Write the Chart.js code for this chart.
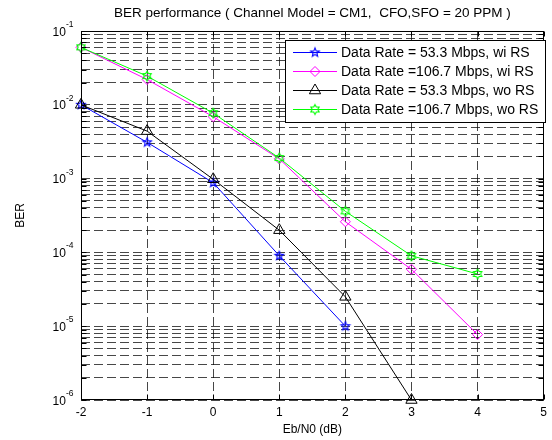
<!DOCTYPE html>
<html>
<head>
<meta charset="utf-8">
<script src="https://cdn.jsdelivr.net/npm/chart.js@4.4.0/dist/chart.umd.min.js"></script>
<style>
  html, body { margin: 0; padding: 0; background: #fff; }
  #wrap { width: 552px; height: 440px; }
</style>
</head>
<body>
<div id="wrap"><canvas id="berChart" width="552" height="440"></canvas></div>
<script>
// Eb/N0 (dB) values where BER was simulated
const ebn0 = [-2, -1, 0, 1, 2, 3, 4];
// BER per curve (null = point not plotted)
const berWiRS533 = [1.0e-2, 3.1e-3, 8.8e-4, 9.0e-5, 1.0e-5, null, null];
const berWiRS1067 = [6.0e-2, 2.2e-2, 6.9e-3, 1.85e-3, 2.6e-4, 5.9e-5, 7.7e-6];
const berWoRS533 = [1.0e-2, 4.4e-3, 9.8e-4, 2.0e-4, 2.5e-5, 1.0e-6, null];
const berWoRS1067 = [6.0e-2, 2.45e-2, 7.7e-3, 1.9e-3, 3.6e-4, 9.0e-5, 5.1e-5];

const seriesLabels = [
    'Data Rate = 53.3 Mbps, wi RS',
    'Data Rate =106.7 Mbps, wi RS',
    'Data Rate = 53.3 Mbps, wo RS',
    'Data Rate =106.7 Mbps, wo RS'
];
const xTicks = [-2, -1, 0, 1, 2, 3, 4, 5];
const yDecades = [-6, -5, -4, -3, -2, -1];

const chartTitle = 'BER performance ( Channel Model = CM1,  CFO,SFO = 20 PPM )';
const xTitle = 'Eb/N0 (dB)';
const yTitle = 'BER';

const FONT = 'Arial, "Liberation Sans", Helvetica, sans-serif';
const gridColor = 'rgba(0,0,0,0.72)';

// estrella dibujada en un canvas pequeño (pentagrama / hexagrama de MATLAB)
function makeStar(points, rOuter, rInner, color) {
    const size = Math.ceil(rOuter * 2 + 4);
    const c = document.createElement('canvas');
    c.width = size;
    c.height = size;
    const g = c.getContext('2d');
    g.strokeStyle = color;
    g.lineWidth = 1.1;
    g.beginPath();
    for (let i = 0; i < points * 2; i++) {
        const r = i % 2 === 0 ? rOuter : rInner;
        const a = -Math.PI / 2 + i * Math.PI / points;
        const px = size / 2 + r * Math.cos(a);
        const py = size / 2 + r * Math.sin(a);
        if (i === 0) g.moveTo(px, py); else g.lineTo(px, py);
    }
    g.closePath();
    g.stroke();
    return c;
}

function toPoints(values) {
    const out = [];
    values.forEach((v, i) => {
        if (v !== null) out.push({ x: ebn0[i], y: v });
    });
    return out;
}

const datasets = [
    { label: seriesLabels[0], data: toPoints(berWiRS533), borderColor: '#0000ff',
      pointStyle: makeStar(5, 4.6, 2, '#0000ff'), pointRadius: 5, order: 3 },
    { label: seriesLabels[1], data: toPoints(berWiRS1067), borderColor: '#ff00ff',
      pointStyle: 'rectRot', pointRadius: 5, order: 2 },
    { label: seriesLabels[2], data: toPoints(berWoRS533), borderColor: '#000000',
      pointStyle: 'triangle', pointRadius: 6.5, order: 1 },
    { label: seriesLabels[3], data: toPoints(berWoRS1067), borderColor: '#00ff00',
      pointStyle: makeStar(6, 4.8, 2.8, '#00ff00'), pointRadius: 5, order: 0 }
].map(ds => Object.assign(ds, {
    borderWidth: 1,
    pointBorderWidth: 1,
    pointBorderColor: ds.borderColor,
    pointBackgroundColor: 'rgba(0,0,0,0)',
    tension: 0,
    fill: false,
    clip: false
}));

function drawMarker(ctx, ds, x, y) {
    if (ds.pointStyle instanceof HTMLCanvasElement) {
        ctx.drawImage(ds.pointStyle, x - ds.pointStyle.width / 2, y - ds.pointStyle.height / 2);
    } else {
        Chart.helpers.drawPoint(ctx, {
            pointStyle: ds.pointStyle, radius: ds.pointRadius, rotation: 0, borderWidth: 1
        }, x, y);
    }
}

// ejes estilo MATLAB: caja, marcas hacia adentro, etiquetas 10^n, títulos y leyenda
const matlabAxes = {
    id: 'matlabAxes',
    afterDraw(chart) {
        const { ctx, chartArea: a, scales: { x, y } } = chart;
        const L = Math.round(a.left) + 0.5, R = Math.round(a.right) - 0.5;
        const T = Math.round(a.top) + 0.5, B = Math.round(a.bottom) - 0.5;
        ctx.save();
        ctx.setLineDash([]);
        ctx.strokeStyle = '#000';
        ctx.lineWidth = 1;

        // marcas
        ctx.beginPath();
        y.ticks.forEach(t => {
            const py = Math.round(y.getPixelForValue(t.value)) + 0.5;
            ctx.moveTo(L, py); ctx.lineTo(L + 5, py);
            ctx.moveTo(R, py); ctx.lineTo(R - 5, py);
        });
        xTicks.forEach(v => {
            const px = Math.round(x.getPixelForValue(v)) + 0.5;
            ctx.moveTo(px, B); ctx.lineTo(px, B - 5);
            ctx.moveTo(px, T); ctx.lineTo(px, T + 5);
        });
        ctx.stroke();
        ctx.strokeRect(L, T, R - L, B - T);

        // etiquetas del eje y
        ctx.fillStyle = '#000';
        ctx.textBaseline = 'alphabetic';
        yDecades.forEach(d => {
            const py = y.getPixelForValue(Math.pow(10, d));
            ctx.font = '12px ' + FONT;
            const exp = String(d);
            const baseW = ctx.measureText('10').width;
            ctx.font = '8.5px ' + FONT;
            const expW = ctx.measureText(exp).width;
            const xr = L - 8;
            ctx.font = '12px ' + FONT;
            ctx.textAlign = 'left';
            ctx.fillText('10', xr - expW - baseW, py + 4.5);
            ctx.font = '8.5px ' + FONT;
            ctx.fillText(exp, xr - expW, py - 4);
        });

        // títulos
        ctx.font = '13.5px ' + FONT;
        ctx.textAlign = 'center';
        ctx.textBaseline = 'middle';
        ctx.fillText(chartTitle, (a.left + a.right) / 2, 13);
        ctx.font = '12px ' + FONT;
        ctx.fillText(xTitle, (a.left + a.right) / 2, 430);
        ctx.save();
        ctx.translate(21, (a.top + a.bottom) / 2);
        ctx.rotate(-Math.PI / 2);
        ctx.fillText(yTitle, 0, 0);
        ctx.restore();

        // leyenda
        const lx = 285, ly = 40, lw = 260, lh = 82;
        ctx.fillStyle = '#fff';
        ctx.fillRect(lx, ly, lw, lh);
        ctx.strokeStyle = '#000';
        ctx.strokeRect(lx + 0.5, ly + 0.5, lw, lh);
        ctx.font = '14px ' + FONT;
        ctx.textAlign = 'left';
        chart.data.datasets.forEach((ds, i) => {
            const ry = Math.round(ly + 12 + i * 19) + 0.5;
            ctx.strokeStyle = ds.borderColor;
            ctx.lineWidth = 1;
            ctx.beginPath();
            ctx.moveTo(lx + 8, ry);
            ctx.lineTo(lx + 52, ry);
            ctx.stroke();
            ctx.fillStyle = 'rgba(0,0,0,0)';
            drawMarker(ctx, ds, lx + 30, ry);
            ctx.fillStyle = '#000';
            ctx.fillText(ds.label, lx + 56, ry + 1);
        });
        ctx.restore();
    }
};

const ctx = document.getElementById('berChart').getContext('2d');
const myChart = new Chart(ctx, {
    type: 'line',
    data: { datasets: datasets },
    options: {
        responsive: false,
        animation: false,
        events: [],
        layout: { padding: { top: 31, right: 3, left: 0, bottom: 0 } },
        plugins: {
            legend: { display: false },
            title: { display: false },
            tooltip: { enabled: false }
        },
        scales: {
            x: {
                type: 'linear',
                min: -2,
                max: 5,
                afterBuildTicks: s => { s.ticks = xTicks.map(v => ({ value: v })); },
                afterFit: s => { s.height = 40; },
                grid: { color: gridColor, drawTicks: false },
                border: { display: false, dash: [9, 4] },
                ticks: {
                    padding: 5,
                    color: '#000',
                    font: { family: FONT, size: 12 },
                    maxRotation: 0,
                    callback: v => String(v)
                }
            },
            y: {
                type: 'logarithmic',
                min: 1e-6,
                max: 1e-1,
                afterBuildTicks: s => {
                    const t = [];
                    yDecades.forEach(d => {
                        for (let m = 1; m <= 9; m++) {
                            const v = m * Math.pow(10, d);
                            if (v <= 0.1 + 1e-12) t.push({ value: v });
                        }
                    });
                    s.ticks = t;
                },
                afterFit: s => { s.width = 81; },
                grid: { color: gridColor, drawTicks: false },
                border: { display: false, dash: [9, 4] },
                ticks: { display: false }
            }
        }
    },
    plugins: [matlabAxes]
});
</script>
</body>
</html>
